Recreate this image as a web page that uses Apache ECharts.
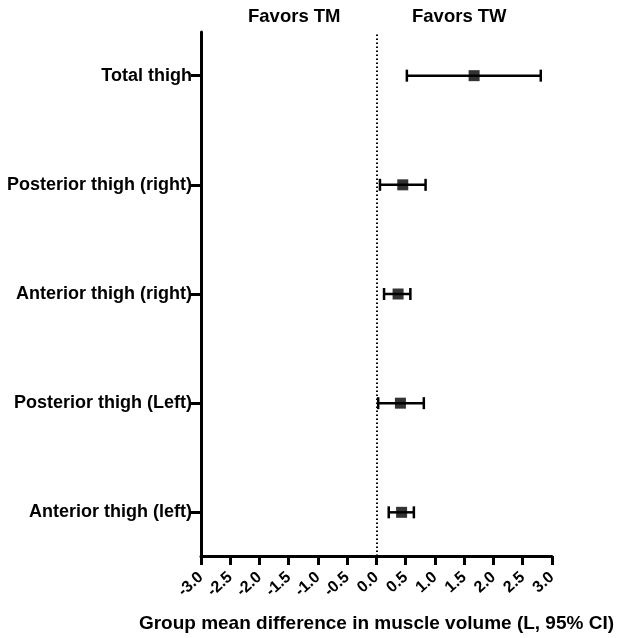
<!DOCTYPE html>
<html>
<head>
<meta charset="utf-8">
<script src="https://cdn.jsdelivr.net/npm/echarts@6/dist/echarts.min.js"></script>
<style>
html,body{margin:0;padding:0;background:#fff;width:617px;height:638px;overflow:hidden;}
#chart{width:617px;height:638px;}
</style>
</head>
<body>
<div id="chart"></div>
<script>
// Categories listed bottom to top (y index 0..4)
const categories = ['Anterior thigh (left)', 'Posterior thigh (Left)', 'Anterior thigh (right)', 'Posterior thigh (right)', 'Total thigh'];
const meanDiff = [0.43, 0.41, 0.37, 0.45, 1.67];
const ciLower = [0.21, 0.03, 0.13, 0.06, 0.52];
const ciUpper = [0.64, 0.81, 0.58, 0.84, 2.81];
const headerLeft = 'Favors TM';
const headerRight = 'Favors TW';
const xTitle = 'Group mean difference in muscle volume (L, 95% CI)';

const FONT = '"Liberation Sans", Arial, Helvetica, sans-serif';
const idx = categories.map((_, i) => i);

const chart = echarts.init(document.getElementById('chart'), null, {renderer: 'canvas', width: 617, height: 638});

const errData = idx.map(i => [ciLower[i], ciUpper[i], i]);
const meanData = idx.map(i => [meanDiff[i], i]);

chart.setOption({
  animation: false,
  backgroundColor: '#fff',
  grid: {left: 201, right: 61, top: 32, bottom: 74, containLabel: false},
  xAxis: {
    type: 'value',
    min: -3, max: 3, interval: 0.5,
    axisLine: {show: true, onZero: false, lineStyle: {color: '#000', width: 3}},
    axisTick: {show: true, length: 9, lineStyle: {color: '#000', width: 3}},
    splitLine: {show: false},
    axisLabel: {
      rotate: 42, margin: 19, color: '#000', fontFamily: FONT, fontWeight: 'bold', fontSize: 16,
      formatter: v => v.toFixed(1)
    },
    name: xTitle,
    nameLocation: 'middle',
    nameGap: 58,
    nameTextStyle: {color: '#000', fontFamily: FONT, fontWeight: 'bold', fontSize: 19}
  },
  yAxis: {
    type: 'value',
    min: -0.4, max: 4.4,
    axisLine: {show: true, onZero: false, lineStyle: {color: '#000', width: 3}},
    axisTick: {show: true, length: 10, customValues: idx, lineStyle: {color: '#000', width: 3}},
    splitLine: {show: false},
    axisLabel: {
      customValues: idx, margin: 9, color: '#000', fontFamily: FONT, fontWeight: 'bold', fontSize: 18,
      formatter: v => categories[Math.round(v)] || ''
    }
  },
  graphic: [
    {type: 'text', left: 248, top: 7, style: {text: headerLeft, fill: '#000', font: 'bold 18.5px ' + FONT}},
    {type: 'text', left: 412, top: 7, style: {text: headerRight, fill: '#000', font: 'bold 18.5px ' + FONT}}
  ],
  series: [
    {
      type: 'custom',
      data: errData,
      encode: {x: [0, 1], y: 2},
      renderItem: function (params, api) {
        const y = api.value(2);
        const p1 = api.coord([api.value(0), y]);
        const p2 = api.coord([api.value(1), y]);
        const cap = 6;
        const style = {stroke: '#000', lineWidth: 2.5};
        return {
          type: 'group',
          children: [
            {type: 'line', shape: {x1: p1[0], y1: p1[1], x2: p2[0], y2: p2[1]}, style: style},
            {type: 'line', shape: {x1: p1[0], y1: p1[1] - cap, x2: p1[0], y2: p1[1] + cap}, style: style},
            {type: 'line', shape: {x1: p2[0], y1: p2[1] - cap, x2: p2[0], y2: p2[1] + cap}, style: style}
          ]
        };
      },
      z: 2
    },
    {
      type: 'scatter',
      data: meanData,
      symbol: 'rect',
      symbolSize: 11,
      itemStyle: {color: '#000'},
      z: 3,
      markLine: {
        silent: true,
        symbol: ['none', 'none'],
        label: {show: false},
        lineStyle: {color: '#000', width: 2, type: [1.5, 2.5]},
        data: [{xAxis: 0}]
      }
    }
  ]
});
</script>
</body>
</html>
